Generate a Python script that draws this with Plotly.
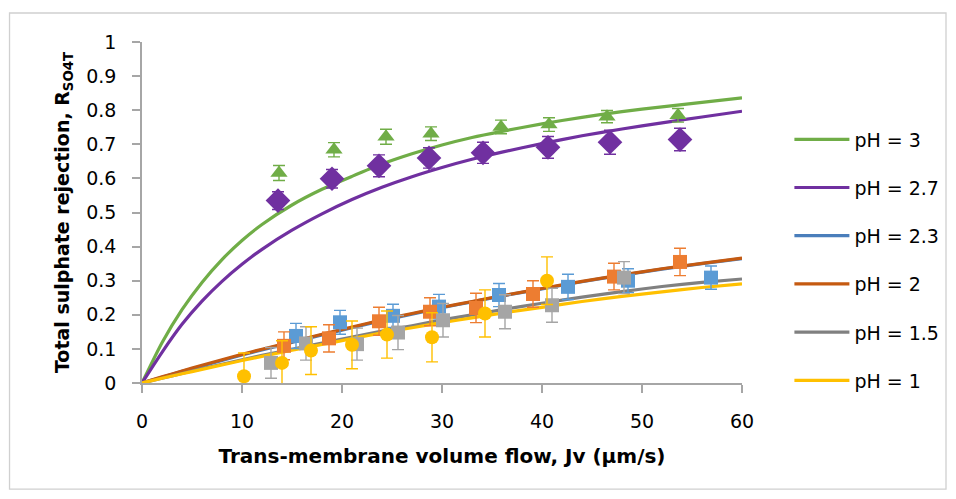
import plotly.graph_objects as go

# ---------------- data ----------------
# measured points
jv_ph3 = [13.7, 19.2, 24.4, 28.9, 35.9, 40.7, 46.5, 53.6]
r_ph3 = [0.616, 0.684, 0.722, 0.731, 0.751, 0.758, 0.781, 0.785]
e_ph3 = [0.022, 0.021, 0.022, 0.020, 0.020, 0.020, 0.018, 0.020]

jv_ph27 = [13.6, 19.0, 23.7, 28.7, 34.1, 40.6, 46.8, 53.8]
r_ph27 = [0.535, 0.599, 0.637, 0.660, 0.675, 0.691, 0.706, 0.714]
e_ph27 = [0.026, 0.027, 0.032, 0.030, 0.031, 0.032, 0.035, 0.033]

jv_ph23 = [15.4, 19.8, 25.1, 29.7, 35.7, 42.6, 48.6, 56.9]
r_ph23 = [0.138, 0.178, 0.197, 0.224, 0.258, 0.282, 0.300, 0.309]
e_ph23 = [0.037, 0.035, 0.034, 0.036, 0.034, 0.037, 0.035, 0.034]

jv_ph2 = [14.2, 18.7, 23.7, 28.8, 33.4, 39.1, 47.2, 53.8]
r_ph2 = [0.109, 0.131, 0.181, 0.209, 0.220, 0.261, 0.312, 0.355]
e_ph2 = [0.041, 0.040, 0.041, 0.041, 0.043, 0.039, 0.039, 0.040]

jv_ph15 = [12.9, 16.4, 21.5, 25.6, 30.1, 36.3, 41.0, 48.2]
r_ph15 = [0.059, 0.116, 0.114, 0.148, 0.184, 0.209, 0.228, 0.309]
e_ph15 = [0.045, 0.049, 0.047, 0.050, 0.049, 0.050, 0.050, 0.047]

jv_ph1 = [10.2, 14.0, 16.9, 21.0, 24.5, 29.0, 34.3, 40.5]
r_ph1 = [0.020, 0.059, 0.095, 0.112, 0.142, 0.134, 0.204, 0.300]
e_ph1 = [0.068, 0.065, 0.070, 0.070, 0.069, 0.072, 0.069, 0.070]

# model (fitted) curves
jv_fit = [0, 2, 4, 6, 8, 10, 12, 15, 18, 21, 24, 27, 30, 33, 36, 40, 44, 48, 52, 56, 60]
fit_ph3 = [0, 0.118, 0.215, 0.295, 0.362, 0.418, 0.465, 0.522, 0.568, 0.606, 0.642,
           0.672, 0.698, 0.720, 0.738, 0.760, 0.779, 0.796, 0.810, 0.823, 0.836]
fit_ph27 = [0, 0.090, 0.172, 0.240, 0.298, 0.348, 0.392, 0.448, 0.496, 0.538, 0.574,
            0.605, 0.632, 0.656, 0.677, 0.702, 0.725, 0.745, 0.763, 0.780, 0.797]
fit_ph23 = [0, 0.017, 0.034, 0.050, 0.066, 0.082, 0.097, 0.119, 0.141, 0.162, 0.183,
            0.202, 0.221, 0.238, 0.255, 0.276, 0.297, 0.316, 0.334, 0.350, 0.365]
fit_ph2 = [0, 0.018, 0.035, 0.052, 0.068, 0.084, 0.099, 0.121, 0.143, 0.164, 0.185,
           0.204, 0.222, 0.239, 0.256, 0.277, 0.298, 0.317, 0.335, 0.351, 0.366]
fit_ph15 = [0, 0.014, 0.028, 0.042, 0.055, 0.068, 0.081, 0.099, 0.117, 0.135, 0.152,
            0.168, 0.185, 0.200, 0.215, 0.234, 0.252, 0.268, 0.283, 0.295, 0.305]
fit_ph1 = [0, 0.014, 0.027, 0.040, 0.053, 0.066, 0.078, 0.096, 0.113, 0.130, 0.147,
           0.162, 0.177, 0.191, 0.205, 0.222, 0.239, 0.254, 0.267, 0.280, 0.291]

x_ticks = [0, 10, 20, 30, 40, 50, 60]
y_ticks = [0, 0.1, 0.2, 0.3, 0.4, 0.5, 0.6, 0.7, 0.8, 0.9, 1]
y_tick_labels = ["0", "0.1", "0.2", "0.3", "0.4", "0.5", "0.6", "0.7", "0.8", "0.9", "1"]

legend_names = ["pH = 3", "pH = 2.7", "pH = 2.3", "pH = 2", "pH = 1.5", "pH = 1"]

# ---------------- styling ----------------
FONT = "DejaVu Sans"
fits = [fit_ph3, fit_ph27, fit_ph23, fit_ph2, fit_ph15, fit_ph1]
line_colors = ["#70AD47", "#7030A0", "#4A7EBB", "#C55A11", "#808080", "#FFC000"]

points = [
    (jv_ph3, r_ph3, e_ph3, "#70AD47", "triangle-up", 15),
    (jv_ph27, r_ph27, e_ph27, "#7030A0", "diamond", 19),
    (jv_ph23, r_ph23, e_ph23, "#5B9BD5", "square", 14),
    (jv_ph2, r_ph2, e_ph2, "#ED7D31", "square", 14),
    (jv_ph15, r_ph15, e_ph15, "#A5A5A5", "square", 14),
    (jv_ph1, r_ph1, e_ph1, "#FFC000", "circle", 14),
]

fig = go.Figure()

for i, (fy, col, name) in enumerate(zip(fits, line_colors, legend_names)):
    fig.add_trace(go.Scatter(
        x=jv_fit, y=fy, mode="lines", name=name,
        line=dict(color=col, width=3.2, shape="spline", smoothing=0.6),
        legendgroup="g%d" % i, showlegend=True, hoverinfo="skip",
    ))

for (xs, ys, es, col, sym, sz) in points:
    fig.add_trace(go.Scatter(
        x=xs, y=ys, mode="markers", showlegend=False,
        marker=dict(color=col, symbol=sym, size=sz, line=dict(width=0)),
        error_y=dict(type="data", array=es, visible=True, color=col,
                     thickness=1.4, width=6),
    ))

# the page body adds an 8px offset, so the figure is 8px smaller with margins shifted
fig.update_layout(
    width=948, height=491,
    margin=dict(l=134, r=214, t=34, b=116, autoexpand=False),
    paper_bgcolor="white", plot_bgcolor="white",
    font=dict(family=FONT, size=19, color="#000000"),
    legend=dict(
        x=1.079, y=0.77, xanchor="left", yanchor="top",
        font=dict(family=FONT, size=19, color="#000000"),
        tracegroupgap=20.5, itemwidth=55, bgcolor="rgba(0,0,0,0)",
    ),
    shapes=[dict(type="rect", xref="paper", yref="paper",
                 x0=-0.2208, x1=1.34, y0=-0.311, y1=1.085,
                 line=dict(color="#D0D0D0", width=1.3), fillcolor="rgba(0,0,0,0)",
                 layer="below")],
)

fig.update_xaxes(
    range=[0, 60], tickvals=x_ticks, ticktext=[str(v) for v in x_ticks],
    showgrid=False, zeroline=False, showline=True, linecolor="#A6A6A6", linewidth=1.5,
    ticks="outside", ticklen=8, tickcolor="#A6A6A6", tickwidth=1.5,
    ticklabelstandoff=12,
    tickfont=dict(family=FONT, size=19, color="#000000"),
    title=dict(text="<b>Trans-membrane volume flow, Jv (µm/s)</b>",
               font=dict(family=FONT, size=20, color="#000000"), standoff=18),
)
fig.update_yaxes(
    range=[0, 1], tickvals=y_ticks, ticktext=y_tick_labels,
    showgrid=False, zeroline=False, showline=True, linecolor="#A6A6A6", linewidth=1.5,
    ticks="outside", ticklen=8, tickcolor="#A6A6A6", tickwidth=1.5,
    ticklabelstandoff=12,
    tickfont=dict(family=FONT, size=19, color="#000000"),
    title=dict(text="<b>Total sulphate rejection, R<sub>SO4T</sub></b>",
               font=dict(family=FONT, size=19, color="#000000"), standoff=12),
)

fig.write_html("out.html")
